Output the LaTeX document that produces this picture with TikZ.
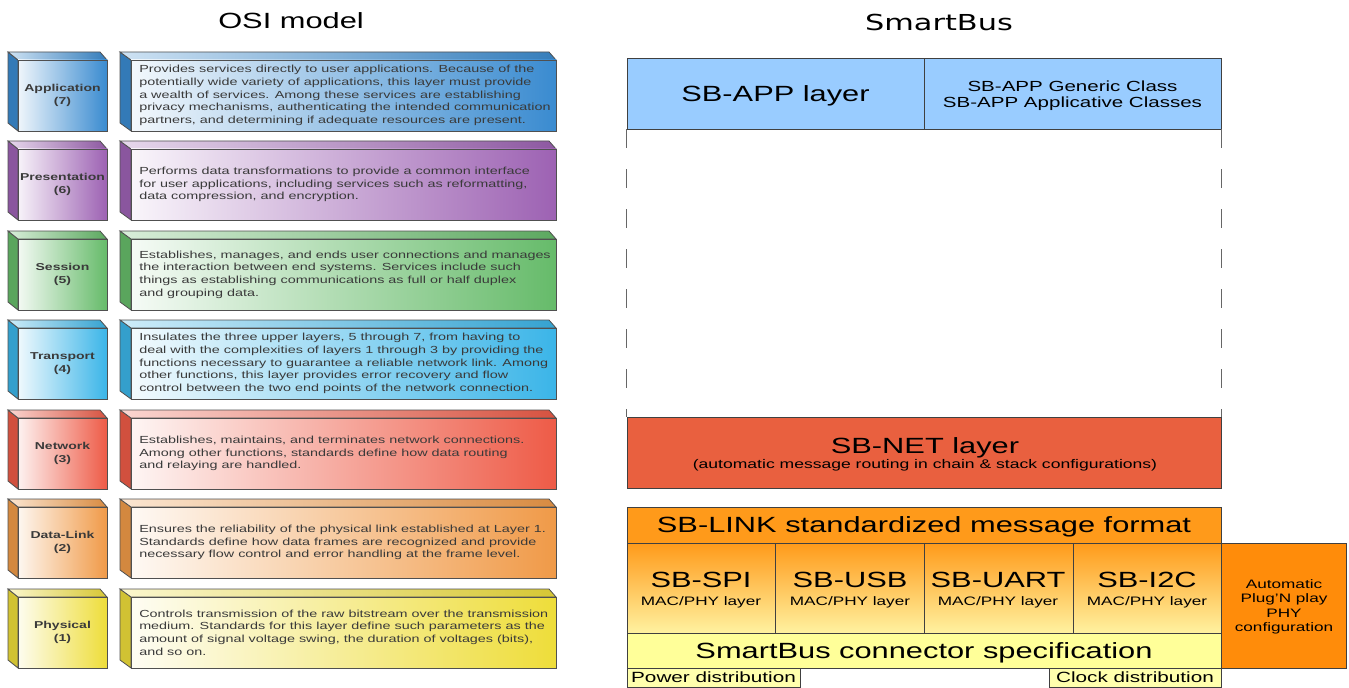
\documentclass[tikz,border=0pt]{standalone}
\usepackage{fontspec}
\setmainfont{Liberation Sans}[FakeStretch=1.4]
\newfontfamily\titlefont{DejaVu Sans}[FakeStretch=1.38]
\usetikzlibrary{fit}
\definecolor{edge}{HTML}{505050}
\definecolor{desctext}{HTML}{3A3A3A}
\definecolor{osiblue}{HTML}{3A8BD0}
\definecolor{osipurple}{HTML}{9D62B3}
\definecolor{osigreen}{HTML}{66BB6A}
\definecolor{osicyan}{HTML}{3BB5E8}
\definecolor{osired}{HTML}{EE5B47}
\definecolor{osiorange}{HTML}{F09A48}
\definecolor{osiyellow}{HTML}{EEDD3A}
\definecolor{sbblue}{HTML}{99CCFF}
\definecolor{sbred}{HTML}{E9603F}
\definecolor{sborange}{HTML}{FF9A1A}
\definecolor{sbpale}{HTML}{FFF2A0}
\definecolor{sbyellow}{HTML}{FFFF99}
\definecolor{sbauto}{HTML}{FF8C0A}
\tikzset{
  facedraw/.style={draw=edge, line width=0.6pt},
  lbl/.style={font=\bfseries\fontsize{7.5}{9.5}\selectfont, text=desctext, align=center, inner sep=0pt},
  desc/.style={font=\fontsize{7.7}{9.5}\selectfont, text=desctext, align=left, inner sep=0pt, anchor=west},
  sbox/.style={draw=black!75, line width=0.6pt, inner sep=0pt},
  bigt/.style={font=\fontsize{16.5}{19}\selectfont, inner sep=0pt, text height=11.8pt, text depth=0pt},
  smallt/.style={font=\fontsize{9.2}{11}\selectfont, inner sep=0pt, text height=6.6pt, text depth=0pt},
  dashline/.style={draw=black!60, line width=0.6pt, dash pattern=on 14pt off 16pt},
}
\newcommand\osirow[6]{%
\begin{scope}[shift={(0,#1)}]
  \path[facedraw, fill=#2!88!black] (8,0) -- (18,8) -- (18,79) -- (8,71) -- cycle;
  \path[facedraw, left color=#2!25, right color=#2!90!black] (8,0) -- (100,0) -- (107,8) -- (18,8) -- cycle;
  \node[facedraw, inner sep=0pt, left color=#2!8, right color=#2, fit={(18,8) (107,79)}] (#3small) {};
  \node[lbl] (#3lab) at (#3small.center) {#4\\(#5)};
  \path[facedraw, fill=#2!88!black] (120,0) -- (131,8) -- (131,79) -- (120,71) -- cycle;
  \path[facedraw, left color=#2!25, right color=#2!90!black] (120,0) -- (549,0) -- (556,8) -- (131,8) -- cycle;
  \node[facedraw, inner sep=0pt, left color=#2!6, right color=#2, fit={(131,8) (556,79)}] (#3big) {};
  \node[desc] (#3desc) at (139,43.5) {#6};
\end{scope}}
\begin{document}
\begin{tikzpicture}[x=0.75pt, y=-0.75pt]
\useasboundingbox (0,0) rectangle (1349,688);
% titles
\node[font=\fontsize{16.5}{19}\selectfont, inner sep=0pt] (osititle) at (291,21) {OSI model};
\node[font=\titlefont\fontsize{16.5}{19}\selectfont, inner sep=0pt] (sbtitle) at (939,22) {SmartBus};
% OSI rows
\osirow{52}{osiblue}{app}{Application}{7}{Provides services directly to user applications. Because of the\\potentially wide variety of applications, this layer must provide\\a wealth of services. Among these services are establishing\\privacy mechanisms, authenticating the intended communication\\partners, and determining if adequate resources are present.}
\osirow{141}{osipurple}{pres}{Presentation}{6}{Performs data transformations to provide a common interface\\for user applications, including services such as reformatting,\\data compression, and encryption.}
\osirow{231}{osigreen}{sess}{Session}{5}{Establishes, manages, and ends user connections and manages\\the interaction between end systems. Services include such\\things as establishing communications as full or half duplex\\and grouping data.}
\osirow{320}{osicyan}{trans}{Transport}{4}{Insulates the three upper layers, 5 through 7, from having to\\deal with the complexities of layers 1 through 3 by providing the\\functions necessary to guarantee a reliable network link. Among\\other functions, this layer provides error recovery and flow\\control between the two end points of the network connection.}
\osirow{410}{osired}{netw}{Network}{3}{Establishes, maintains, and terminates network connections.\\Among other functions, standards define how data routing\\and relaying are handled.}
\osirow{499}{osiorange}{dl}{Data-Link}{2}{Ensures the reliability of the physical link established at Layer 1.\\Standards define how data frames are recognized and provide\\necessary flow control and error handling at the frame level.}
\osirow{589}{osiyellow}{phys}{Physical}{1}{Controls transmission of the raw bitstream over the transmission\\medium. Standards for this layer define such parameters as the\\amount of signal voltage swing, the duration of voltages (bits),\\and so on.}
% SmartBus stack
\node[sbox, fill=sbblue, fit={(627,58) (924,129)}] (appL) {};
\node[sbox, fill=sbblue, fit={(924,58) (1221,129)}] (appR) {};
\node[bigt] (appLt) at (appL.center) {SB-APP layer};
\node[font=\fontsize{11}{12.2}\selectfont, align=center, inner sep=0pt] (appRt) at ([yshift=-1.5pt]appR.center) {SB-APP Generic Class\\SB-APP Applicative Classes};
\node[sbox, fill=sbred, fit={(627,417) (1221,488)}] (net) {};
\node[bigt] (nett) at (925,446) {SB-NET layer};
\node[font=\fontsize{9.4}{10}\selectfont, inner sep=0pt] (netsub) at (925,465) {(automatic message routing in chain \& stack configurations)};
\draw[dashline] (appL.south west) -- (net.north west);
\draw[dashline] (appR.south east) -- (net.north east);
\node[sbox, fill=sborange, fit={(627,507) (1221,543)}] (link) {};
\node[bigt] (linkt) at (link.center) {SB-LINK standardized message format};
\node[sbox, top color=sborange, bottom color=sbpale, fit={(627,543) (775,633)}] (spi) {};
\node[sbox, top color=sborange, bottom color=sbpale, fit={(775,543) (924,633)}] (usb) {};
\node[sbox, top color=sborange, bottom color=sbpale, fit={(924,543) (1073,633)}] (uart) {};
\node[sbox, top color=sborange, bottom color=sbpale, fit={(1073,543) (1221,633)}] (iic) {};
\node[bigt] (spit) at (701,580) {SB-SPI};
\node[smallt] (spis) at (701,601) {MAC/PHY layer};
\node[bigt] (usbt) at (850,580) {SB-USB};
\node[smallt] (usbs) at (850,601) {MAC/PHY layer};
\node[bigt] (uartt) at (998,580) {SB-UART};
\node[smallt] (uarts) at (998,601) {MAC/PHY layer};
\node[bigt] (iict) at (1147,580) {SB-I2C};
\node[smallt] (iics) at (1147,601) {MAC/PHY layer};
\node[sbox, fill=sbyellow, fit={(627,633) (1221,668)}] (conn) {};
\node[bigt] (connt) at (conn.center) {SmartBus connector specification};
\node[sbox, fill=sbyellow!80!white, fit={(627,668) (800,687)}] (power) {};
\node[font=\fontsize{11.1}{12}\selectfont, inner sep=0pt] (powert) at (power.center) {Power distribution};
\node[sbox, fill=sbyellow!80!white, fit={(1049,668) (1221,687)}] (clock) {};
\node[font=\fontsize{11.1}{12}\selectfont, inner sep=0pt] (clockt) at (clock.center) {Clock distribution};
\node[sbox, fill=sbauto, fit={(1221,543) (1346,668)}] (auto) {};
\node[font=\fontsize{9.2}{10.9}\selectfont, align=center, inner sep=0pt] (autot) at (1284,607) {Automatic\\Plug'N play\\PHY\\configuration};
\end{tikzpicture}
\end{document}
